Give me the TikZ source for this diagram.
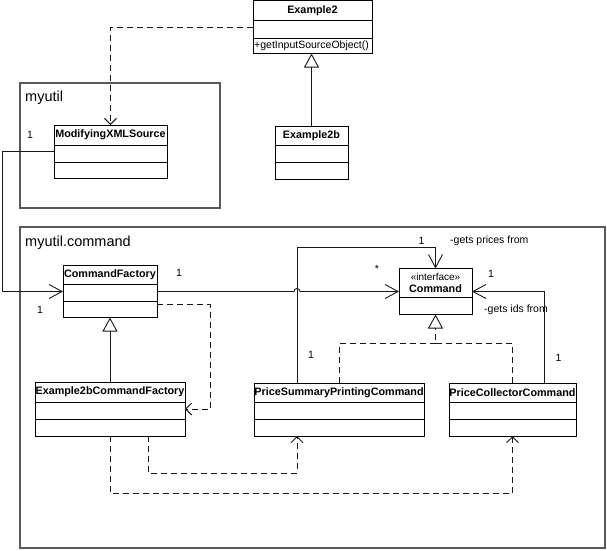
\documentclass[tikz,border=0pt]{standalone}
\usepackage{fontspec}
\setmainfont{Liberation Sans}
\usetikzlibrary{arrows.meta,calc}
\tikzset{
 pkg/.style={draw=black!65, line width=1.2pt, inner sep=0pt, outer sep=0pt, rectangle},
 pkglabel/.style={font=\fontsize{14.5}{16}\selectfont, anchor=west, inner sep=0pt},
 clsbox/.style={draw=black, line width=0.9pt, fill=white, inner sep=0pt, outer sep=0pt, rectangle},
 clsline/.style={draw=black, line width=0.9pt},
 clstitle/.style={font=\fontsize{10.8}{12}\selectfont\bfseries, inner sep=0pt},
 lbl/.style={font=\fontsize{10.5}{12}\selectfont, inner sep=0pt},
 conn/.style={draw=black!90, line width=0.9pt},
 assoc/.style={conn, -{Straight Barb[length=13pt,width=14pt]}},
 dep/.style={conn, dash pattern=on 6pt off 4pt, -{Straight Barb[length=6pt,width=12pt]}},
 inherit/.style={conn, -{Triangle[open,length=14pt,width=15pt,fill=white]}},
 realize/.style={inherit, dash pattern=on 6pt off 4pt},
 dashline/.style={conn, dash pattern=on 6pt off 4pt},
}
\newcommand\umlbox[8]{%
  \node[clsbox, minimum width=#4pt, minimum height=#5pt, anchor=north west] (#1) at (#2,#3) {};
  \draw[clsline] ($(#1.north west)+(0,#6)$) -- ($(#1.north east)+(0,#6)$);
  \draw[clsline] ($(#1.north west)+(0,#7)$) -- ($(#1.north east)+(0,#7)$);
  \node[clstitle] (#1-t) at ($(#1.north)+(0,#6/2)$) {#8};
}
\begin{document}
\begin{tikzpicture}[x=1pt,y=-1pt]
\useasboundingbox (0,0) rectangle (607,550);
% packages
\node[pkg, minimum width=200pt, minimum height=125pt, anchor=north west] (pkgA) at (20,83) {};
\node[pkglabel] (pkgA-l) at (25,98) {myutil};
\node[pkg, minimum width=585pt, minimum height=321pt, anchor=north west] (pkgB) at (20,227) {};
\node[pkglabel] (pkgB-l) at (25,243) {myutil.command};
% classes
\umlbox{ex2}{253}{0.5}{119}{53}{20}{38}{Example2}
\node[lbl, anchor=west] (ex2-op) at ($(ex2.north west)+(1,45.5)$) {+getInputSourceObject()};
\umlbox{ex2b}{275}{126}{73}{53}{19}{36}{Example2b}
\umlbox{mxs}{54}{125}{113}{53}{20}{37}{ModifyingXMLSource}
\umlbox{cf}{63}{265.5}{94}{52}{19}{36}{CommandFactory}
\umlbox{e2cf}{35}{382}{150}{54}{20}{37}{Example2bCommandFactory}
\umlbox{pspc}{254}{383}{170}{53}{19}{36}{PriceSummaryPrintingCommand}
\umlbox{pcc}{449}{383}{127}{53}{19}{36}{PriceCollectorCommand}
\node[clsbox, minimum width=73pt, minimum height=46pt, anchor=north west] (cmd) at (399,268.5) {};
\draw[clsline] ($(cmd.north west)+(0,29)$) -- ($(cmd.north east)+(0,29)$);
\node[lbl, font=\fontsize{10}{12}\selectfont] (cmd-s) at ($(cmd.north)+(0,8)$) {«interface»};
\node[clstitle] (cmd-t) at ($(cmd.north)+(0,20.5)$) {Command};
% connectors
\draw[dep] (ex2.west) -| (mxs.north);
\draw[inherit] (ex2b.north) -- (ex2b.north |- ex2.south);
\draw[assoc] (mxs.west) -- ++(-52,0) |- (cf.west);
\draw[assoc] (cf.east) -- ($(pspc.north west |- cf.east)+(40,0)$) arc[start angle=180,end angle=0,radius=3pt] -- (cmd.west);
\draw[assoc] ($(pspc.north west)+(43,0)$) |- ($(cmd.north)+(0,-21)$) -- (cmd.north);
\draw[assoc] ($(pcc.north west)+(95,0)$) |- (cmd.east);
\draw[realize] (pspc.north) |- ($(cmd.south)+(0,29)$) -- (cmd.south);
\draw[dashline] (pcc.north) |- ($(cmd.south)+(0,29)$);
\draw[inherit] (e2cf.north) -- (cf.south);
\draw[dep] ($(cf.east)+(0,13)$) -- ++(53,0) |- (e2cf.east);
\draw[dep] ($(e2cf.south west)+(113,0)$) -- ++(0,37) -| ($(pspc.south west)+(43,0)$);
\draw[dep] (e2cf.south) -- ++(0,57) -| (pcc.south);
% labels
\node[lbl] (m1) at (30,134.5) {1};
\node[lbl] (m2) at (179,273) {1};
\node[lbl] (m3) at (40,310) {1};
\node[lbl] (m4) at (377,269) {*};
\node[lbl] (m5) at (421.5,240.5) {1};
\node[lbl, anchor=west] (r1) at (450,241) {-gets prices from};
\node[lbl] (m6) at (491,274) {1};
\node[lbl, anchor=west] (r2) at (484,310) {-gets ids from};
\node[lbl] (m7) at (311,354.5) {1};
\node[lbl] (m8) at (558.5,358) {1};
\end{tikzpicture}
\end{document}
